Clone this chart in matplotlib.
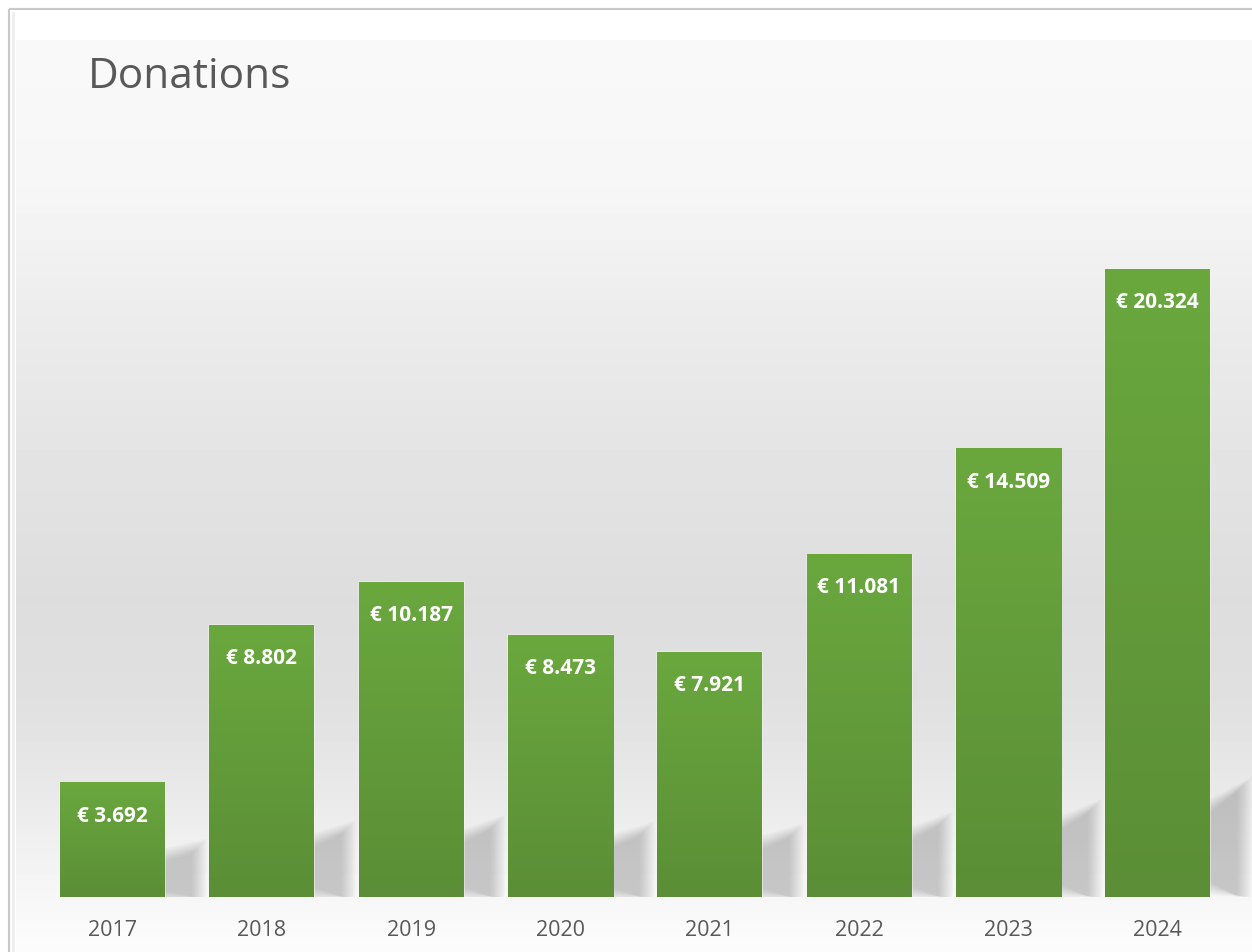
import numpy as np
import matplotlib.pyplot as plt
from matplotlib.patches import Rectangle, Polygon
from matplotlib.colors import LinearSegmentedColormap

years = ['2017', '2018', '2019', '2020', '2021', '2022', '2023', '2024']
donations = [3692, 8802, 10187, 8473, 7921, 11081, 14509, 20324]
labels = ['€ 3.692', '€ 8.802', '€ 10.187', '€ 8.473', '€ 7.921',
          '€ 11.081', '€ 14.509', '€ 20.324']

W, H = 1252, 952
plt.rcParams['font.family'] = ['Open Sans', 'DejaVu Sans']
fig = plt.figure(figsize=(W / 100, H / 100), dpi=100)
fig.patch.set_facecolor('white')

# background gradient (pixel coords, y from top)
bg = fig.add_axes([0, 0, 1, 1])
bg.set_xlim(0, W)
bg.set_ylim(H, 0)
bg.axis('off')
stops_y = [0, 40, 190, 300, 450, 600, 700, 800, 880, 952]
stops_g = [249, 249, 246, 237, 228, 221, 224, 234, 245, 252]
yy = np.arange(40, H)
grey = np.interp(yy, stops_y, stops_g) / 255.0
img = np.repeat(grey[:, None], 16, axis=1)
bg.imshow(img, cmap='gray', vmin=0, vmax=1, aspect='auto',
          extent=[16, W, H, 40], interpolation='none')
bg.add_patch(Rectangle((9, 9), W + 20, H + 20, fill=False,
                       edgecolor='#c9c9c9', lw=1.5))
bg.add_patch(Rectangle((12, 12), 3, H, color='#efefef', lw=0))
bg.text(88, 88, 'Donations', fontsize=30.5, color='#595959',
        ha='left', va='baseline')

# main plot area, mapped to pixels
step = 149.3
x0 = 112.5
base = 897
ppu = 628 / 20324.0
ax = fig.add_axes([0, (H - base) / H, 1, (base - 40) / H])
ax.set_xlim(-x0 / step, (W - x0) / step)
ax.set_ylim(0, (base - 40) / ppu)
ax.patch.set_alpha(0)
ax.axis('off')

x = np.arange(len(years))
bw = 105 / step

# soft shadows behind bars, layered to fake a blur
for i, v in enumerate(donations):
    h = v * ppu
    sh = 30 + 0.12 * h
    xr = x[i] + bw / 2
    dx = 27
    for k in range(12):
        e = k * 1.3
        pts = [(xr, (0.15 * sh - e) / ppu), (xr, (0.8 * sh + e) / ppu),
               (xr + (dx + e) / step, (sh + e) / ppu),
               (xr + (dx + e) / step, 0)]
        ax.add_patch(Polygon(pts, closed=True, color='#6f6f6f',
                             alpha=0.03, lw=0, zorder=1))

# bars with vertical gradient
cmap = LinearSegmentedColormap.from_list('g', ['#5b8e36', '#6aa83e'])
grad = np.linspace(0, 1, 256)[:, None]
bars = ax.bar(x, donations, width=bw, color='#62a03a', zorder=2,
              edgecolor=(0.97, 0.98, 0.95, 0.5), linewidth=1.2)
for b in bars:
    bx, by = b.get_x(), b.get_y()
    ax.imshow(grad, cmap=cmap, aspect='auto', origin='lower',
              extent=[bx, bx + b.get_width(), by, by + b.get_height()],
              zorder=3)

for i, v in enumerate(donations):
    ax.annotate(labels[i], (x[i], v), xytext=(0, -24), textcoords='offset points',
                ha='center', va='center', color='white', fontsize=15,
                fontweight='bold', zorder=4)
    ax.annotate(years[i], (x[i], 0), xytext=(0, -24), textcoords='offset points',
                ha='center', va='center', color='#595959', fontsize=15.5,
                zorder=4, annotation_clip=False)

fig.savefig('out.png', dpi=100)
